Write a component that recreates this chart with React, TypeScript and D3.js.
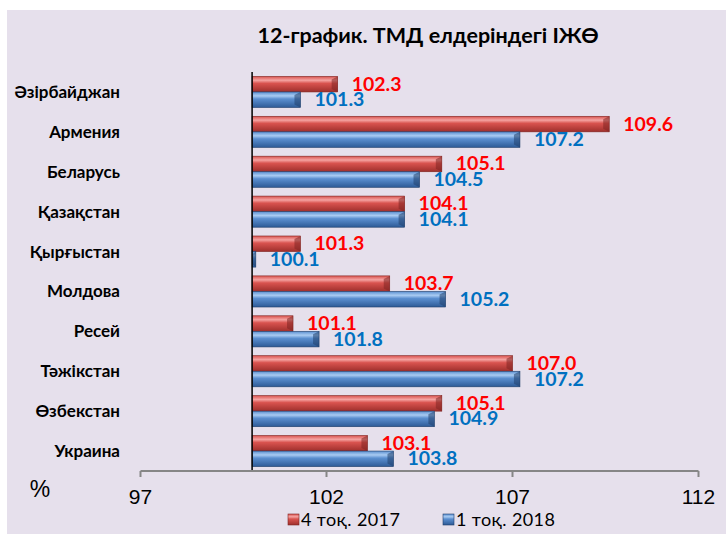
import React from "react";
import * as d3 from "d3";

const categories = ["Әзірбайджан", "Армения", "Беларусь", "Қазақстан", "Қырғыстан", "Молдова", "Ресей", "Тәжікстан", "Өзбекстан", "Украина"];
const series2017 = [102.3, 109.6, 105.1, 104.1, 101.3, 103.7, 101.1, 107.0, 105.1, 103.1];
const series2018 = [101.3, 107.2, 104.5, 104.1, 100.1, 105.2, 101.8, 107.2, 104.9, 103.8];
const xTicks = [97, 102, 107, 112];
const seriesNames = ["4 тоқ. 2017", "1 тоқ. 2018"];
const title = "12-график. ТМД елдеріндегі ІЖӨ";

const W = 726, H = 535;
const FONT = "Lato, 'Open Sans', sans-serif";
const NARROW = "'Liberation Sans Narrow', 'Liberation Sans', Arial, sans-serif";

export default function App() {
  const x = d3.scaleLinear().domain([97, 112]).range([140.5, 698.5]);
  const y = d3.scaleBand().domain(categories).range([72, 471]).paddingInner(0.22).paddingOuter(0.11);
  const base = 100;
  const bw = y.bandwidth() / 2;

  const colors = [
    { id: "gRed", top: "#F4A3A1", mid: "#D9534F", bot: "#9E2F2C", end: "#7F2522", text: "#FF0000" },
    { id: "gBlue", top: "#A9CBF2", mid: "#5B8FD0", bot: "#2D5A96", end: "#213F6B", text: "#0070C0" },
  ];
  const data = [series2017, series2018];

  return (
    <svg width={W} height={H} style={{ position: "absolute", left: 0, top: 0 }}>
      <defs>
        {colors.map((c) => (
          <linearGradient key={c.id} id={c.id} x1="0" y1="0" x2="0" y2="1">
            <stop offset="0" stopColor={c.mid} />
            <stop offset="0.25" stopColor={c.top} />
            <stop offset="0.45" stopColor={c.mid} />
            <stop offset="1" stopColor={c.bot} />
          </linearGradient>
        ))}
      </defs>
      <rect x={7} y={10} width={W - 7} height={H - 10 - 1} fill="#E6E0EC" />
      <text x={428} y={43} textAnchor="middle" fontFamily={FONT} fontWeight="bold" fontSize={21.5} fill="#000">{title}</text>

      {categories.map((cat, i) => (
        <g key={cat}>
          <text x={120} y={(y(cat) as number) + y.bandwidth() / 2 + 6} textAnchor="end" fontFamily={FONT} fontWeight="bold" fontSize={17} fill="#000">{cat}</text>
          {data.map((s, k) => {
            const c = colors[k];
            const y0 = (y(cat) as number) + k * bw;
            const x0 = x(base);
            const x1 = x(s[i]);
            const w = x1 - x0;
            const cap = Math.min(6, w);
            return (
              <g key={k}>
                <rect x={x0} y={y0} width={w} height={bw} fill={`url(#${c.id})`} stroke={c.end} strokeWidth={0.6} />
                <polygon points={`${x1 - cap},${y0 + 3} ${x1},${y0} ${x1},${y0 + bw} ${x1 - cap},${y0 + bw - 3}`} fill={c.end} opacity={0.55} />
                <text x={x1 + 14} y={y0 + bw / 2 + 6.5} fontFamily={FONT} fontWeight="bold" fontSize={19.5} fill={c.text}>{s[i].toFixed(1)}</text>
              </g>
            );
          })}
        </g>
      ))}

      <line x1={x(base)} x2={x(base)} y1={72} y2={471} stroke="#000" strokeWidth={1.5} />
      <line x1={x(97)} x2={x(112)} y1={471} y2={471} stroke="#868686" strokeWidth={2} />
      {xTicks.map((t) => (
        <g key={t}>
          <line x1={x(t)} x2={x(t)} y1={471} y2={477} stroke="#868686" strokeWidth={2} />
          <text x={x(t)} y={504} textAnchor="middle" fontFamily={NARROW} fontSize={21} fill="#000">{t}</text>
        </g>
      ))}
      <text x={40} y={497} textAnchor="middle" fontFamily={NARROW} fontSize={23} fill="#000">%</text>

      {seriesNames.map((n, k) => {
        const lx = k === 0 ? 288 : 443;
        return (
          <g key={n}>
            <rect x={lx} y={514} width={11} height={11} fill={`url(#${colors[k].id})`} stroke={colors[k].end} strokeWidth={0.6} />
            <text x={lx + 13} y={526} fontFamily={FONT} fontSize={18} letterSpacing={0.4} fill="#000">{n}</text>
          </g>
        );
      })}
    </svg>
  );
}
